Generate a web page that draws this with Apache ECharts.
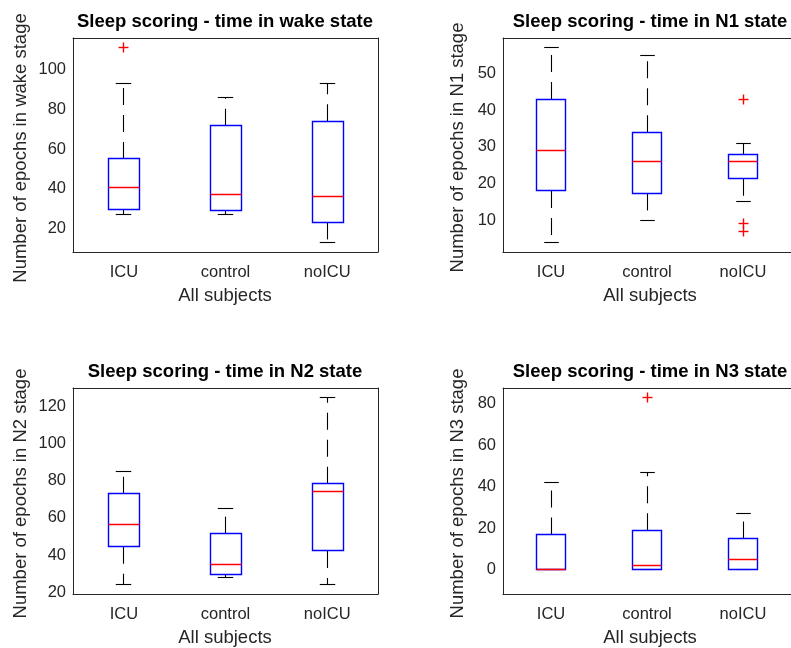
<!DOCTYPE html>
<html>
<head>
<meta charset="utf-8">
<script src="https://cdn.jsdelivr.net/npm/echarts@6/dist/echarts.min.js"></script>
<style>
  html, body { margin: 0; padding: 0; background: #ffffff; }
  #chart { width: 791px; height: 648px; }
</style>
</head>
<body>
<div id="chart"></div>
<script>
// Subject groups on every x axis
const groups = ['ICU', 'control', 'noICU'];

// Box summaries per group: [lower whisker, Q1, median, Q3, upper whisker]
const wakeStats = [[27, 29.5, 40.5, 55, 93], [27, 29, 37, 71.7, 86], [13, 23, 36, 74, 93]];
const n1Stats   = [[4, 18, 29, 43, 57], [10, 17.3, 26, 34, 55], [15, 21.3, 26, 28, 31]];
const n2Stats   = [[24, 44.5, 56.6, 73, 85], [28, 29.4, 35, 51.5, 65], [24, 42.2, 74, 78.4, 125]];
const n3Stats   = [[0, 0, 0, 17, 42], [0, 0, 2, 19, 47], [0, 0, 5, 15, 27]];

// Outliers: [group index, value]
const wakeOutliers = [[0, 111]];
const n1Outliers   = [[2, 43], [2, 9], [2, 7]];
const n2Outliers   = [];
const n3Outliers   = [[1, 83]];

// Y tick labels
const wakeTicks = [20, 40, 60, 80, 100];
const n1Ticks   = [10, 20, 30, 40, 50];
const n2Ticks   = [20, 40, 60, 80, 100, 120];
const n3Ticks   = [0, 20, 40, 60, 80];

// Y axis limits
const wakeLimits = [8.1, 115.9];
const n1Limits   = [1.35, 59.65];
const n2Limits   = [18.95, 130.05];
const n3Limits   = [-11.7, 87.5];

const titles = [
  'Sleep scoring - time in wake state',
  'Sleep scoring - time in N1 state',
  'Sleep scoring - time in N2 state',
  'Sleep scoring - time in N3 state'
];
const yNames = [
  'Number of epochs in wake stage',
  'Number of epochs in N1 stage',
  'Number of epochs in N2 stage',
  'Number of epochs in N3 stage'
];
const xName = 'All subjects';

const FONT = "'Liberation Sans', Arial, Helvetica, sans-serif";
const AXIS_COLOR = '#262626';
const BOX_COLOR = '#0000ff';
const MEDIAN_COLOR = '#ff0000';
const OUTLIER_COLOR = '#ff0000';

const panels = [
  { stats: wakeStats, outliers: wakeOutliers, ticks: wakeTicks, limits: wakeLimits,
    grid: { left: 73, top: 38, width: 305, height: 214 },
    title: [225, 22], yName: [21, 148], xName: [225, 296] },
  { stats: n1Stats, outliers: n1Outliers, ticks: n1Ticks, limits: n1Limits,
    grid: { left: 503, top: 38, width: 298, height: 214 },
    title: [650, 22], yName: [458, 147.5], xName: [650, 296] },
  { stats: n2Stats, outliers: n2Outliers, ticks: n2Ticks, limits: n2Limits,
    grid: { left: 73, top: 388, width: 305, height: 206 },
    title: [225, 372], yName: [21, 493.5], xName: [225, 638] },
  { stats: n3Stats, outliers: n3Outliers, ticks: n3Ticks, limits: n3Limits,
    grid: { left: 503, top: 388, width: 298, height: 206 },
    title: [650, 372], yName: [458, 493.5], xName: [650, 638] }
];

const crisp = v => Math.round(v - 0.5) + 0.5;

// Whiskers (dashed), caps, box outline and median line for one group
function renderBox(params, api) {
  const i = api.value(0);
  const band = api.size([1, 0])[0];
  const half = band * 0.152;
  const capHalf = half / 2;
  const lo = api.coord([i, api.value(1)]);
  const q1 = api.coord([i, api.value(2)]);
  const med = api.coord([i, api.value(3)]);
  const q3 = api.coord([i, api.value(4)]);
  const hi = api.coord([i, api.value(5)]);
  const x = crisp(lo[0]);
  const left = crisp(x - half);
  const width = Math.round(2 * half);
  const children = [];
  if (hi[1] < q3[1]) {
    children.push({ type: 'line', shape: { x1: x, y1: q3[1], x2: x, y2: hi[1] },
      style: { stroke: '#000000', lineWidth: 1.1, lineDash: [17, 10] } });
  }
  if (lo[1] > q1[1]) {
    children.push({ type: 'line', shape: { x1: x, y1: q1[1], x2: x, y2: lo[1] },
      style: { stroke: '#000000', lineWidth: 1.1, lineDash: [17, 10] } });
  }
  children.push({ type: 'line', shape: { x1: x - capHalf, y1: crisp(hi[1]), x2: x + capHalf, y2: crisp(hi[1]) },
    style: { stroke: '#000000', lineWidth: 1.1 } });
  children.push({ type: 'line', shape: { x1: x - capHalf, y1: crisp(lo[1]), x2: x + capHalf, y2: crisp(lo[1]) },
    style: { stroke: '#000000', lineWidth: 1.1 } });
  const top = crisp(q3[1]);
  const bottom = crisp(q1[1]);
  children.push({
    type: 'rect',
    shape: { x: left, y: top, width: width, height: bottom - top },
    style: { fill: 'none', stroke: BOX_COLOR, lineWidth: 1.4 }
  });
  children.push({
    type: 'line',
    shape: { x1: left, y1: crisp(med[1]), x2: left + width, y2: crisp(med[1]) },
    style: { stroke: MEDIAN_COLOR, lineWidth: 1.5 }
  });
  return { type: 'group', children };
}

// Red plus marker for each outlier
function renderOutlier(params, api) {
  const p = api.coord([api.value(0), api.value(1)]);
  const x = crisp(p[0]);
  const y = crisp(p[1]);
  const r = 5;
  return {
    type: 'group',
    children: [
      { type: 'line', shape: { x1: x - r, y1: y, x2: x + r, y2: y },
        style: { stroke: OUTLIER_COLOR, lineWidth: 1.4 } },
      { type: 'line', shape: { x1: x, y1: y - r, x2: x, y2: y + r },
        style: { stroke: OUTLIER_COLOR, lineWidth: 1.4 } }
    ]
  };
}

const grid = [];
const xAxis = [];
const yAxis = [];
const series = [];
const graphic = [];

panels.forEach((pn, k) => {
  grid.push(Object.assign({ containLabel: false, show: false }, pn.grid));

  const tickBase = { inside: true, length: 4, lineStyle: { color: AXIS_COLOR, width: 1 } };
  const lineBase = { show: true, onZero: false, lineStyle: { color: AXIS_COLOR, width: 1 } };

  xAxis.push({
    gridIndex: k, type: 'category', data: groups, position: 'bottom',
    axisLine: lineBase,
    axisTick: Object.assign({ alignWithLabel: true }, tickBase),
    axisLabel: { color: AXIS_COLOR, fontSize: 16.5, fontFamily: FONT, margin: 12 },
    splitLine: { show: false }
  });
  xAxis.push({
    gridIndex: k, type: 'category', data: groups, position: 'top',
    axisLine: lineBase,
    axisTick: Object.assign({ alignWithLabel: true }, tickBase),
    axisLabel: { show: false },
    splitLine: { show: false }
  });
  yAxis.push({
    gridIndex: k, type: 'value', position: 'left',
    min: pn.limits[0], max: pn.limits[1],
    axisLine: lineBase,
    axisTick: Object.assign({ customValues: pn.ticks }, tickBase),
    axisLabel: { customValues: pn.ticks, color: AXIS_COLOR, fontSize: 16.5, fontFamily: FONT, margin: 7 },
    splitLine: { show: false }
  });
  yAxis.push({
    gridIndex: k, type: 'value', position: 'right',
    min: pn.limits[0], max: pn.limits[1],
    axisLine: lineBase,
    axisTick: Object.assign({ customValues: pn.ticks }, tickBase),
    axisLabel: { show: false },
    splitLine: { show: false }
  });

  series.push({
    type: 'custom',
    xAxisIndex: 2 * k, yAxisIndex: 2 * k,
    renderItem: renderBox,
    encode: { x: 0, y: [1, 2, 3, 4, 5] },
    data: pn.stats.map((s, i) => [i].concat(s)),
    silent: true, animation: false, clip: false
  });
  series.push({
    type: 'custom',
    xAxisIndex: 2 * k, yAxisIndex: 2 * k,
    renderItem: renderOutlier,
    encode: { x: 0, y: 1 },
    data: pn.outliers,
    silent: true, animation: false, z: 3
  });

  graphic.push({
    type: 'text', x: pn.title[0], y: pn.title[1], silent: true,
    style: {
      text: titles[k], fill: '#000000', fontSize: 18.5, fontWeight: 'bold', fontFamily: FONT,
      align: 'center', verticalAlign: 'middle', textAlign: 'center', textVerticalAlign: 'middle'
    }
  });
  graphic.push({
    type: 'text', x: pn.xName[0], y: pn.xName[1], silent: true,
    style: {
      text: xName, fill: AXIS_COLOR, fontSize: 18.5, fontFamily: FONT,
      align: 'center', verticalAlign: 'middle', textAlign: 'center', textVerticalAlign: 'middle'
    }
  });
  graphic.push({
    type: 'text', x: pn.yName[0], y: pn.yName[1], rotation: Math.PI / 2, silent: true,
    style: {
      text: yNames[k], fill: AXIS_COLOR, fontSize: 18.5, fontFamily: FONT,
      align: 'center', verticalAlign: 'middle', textAlign: 'center', textVerticalAlign: 'middle'
    }
  });
});

const chart = echarts.init(document.getElementById('chart'), null, { renderer: 'canvas' });
chart.setOption({
  backgroundColor: '#ffffff',
  animation: false,
  grid, xAxis, yAxis, series, graphic
});
</script>
</body>
</html>
